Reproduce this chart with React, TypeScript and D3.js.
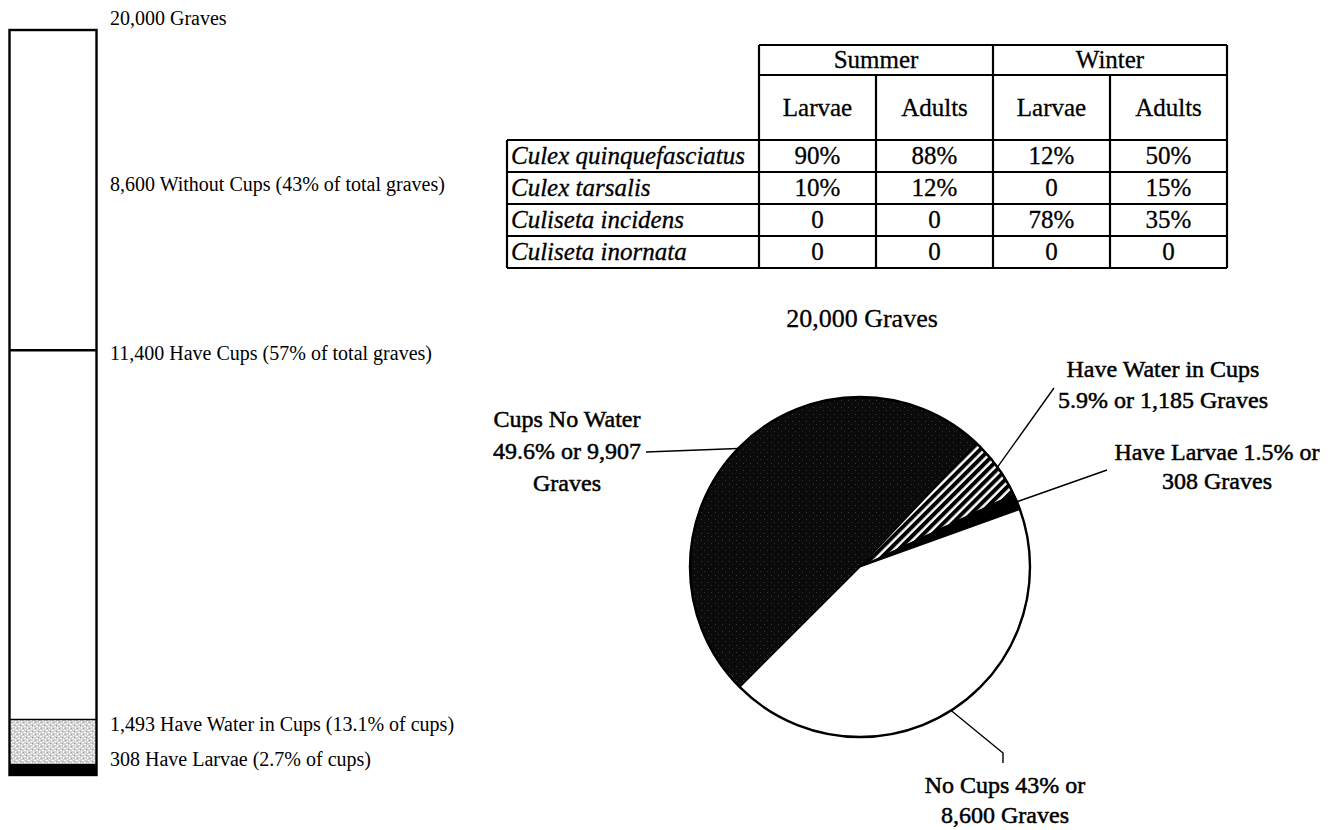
import React from "react";
import * as d3 from "d3";

// ---- Grave survey counts ----
const totalGraves = 20000;
// stacked bar, bottom to top
const barSegmentNames = ["Have Larvae", "Water, No Larvae", "Cups No Water", "Without Cups"];
const barSegmentValues = [308, 1185, 9907, 8600];

// bar annotations: text and the cumulative count each one is anchored to
const barLabelTexts = [
  "20,000 Graves",
  "8,600 Without Cups (43% of total graves)",
  "11,400 Have Cups (57% of total graves)",
  "1,493 Have Water in Cups (13.1% of cups)",
  "308 Have Larvae (2.7% of cups)",
];
const barLabelAnchors = [20000, 15700, 11400, 1493, 308];

// pie slices, clockwise
const pieNames = ["Cups No Water", "Have Water in Cups", "Have Larvae", "No Cups"];
const pieValues = [9907, 1185, 308, 8600];
const pieLabelLines = [
  ["Cups No Water", "49.6% or 9,907", "Graves"],
  ["Have Water in Cups", "5.9% or 1,185 Graves"],
  ["Have Larvae 1.5% or", "308 Graves"],
  ["No Cups 43% or", "8,600 Graves"],
];
const pieTitle = "20,000 Graves";

// species composition table
const seasons = ["Summer", "Winter"];
const stages = ["Larvae", "Adults", "Larvae", "Adults"];
const species = ["Culex quinquefasciatus", "Culex tarsalis", "Culiseta incidens", "Culiseta inornata"];
const quinquefasciatus = ["90%", "88%", "12%", "50%"];
const tarsalis = ["10%", "12%", "0", "15%"];
const incidens = ["0", "0", "78%", "35%"];
const inornata = ["0", "0", "0", "0"];
const tableRows = [quinquefasciatus, tarsalis, incidens, inornata];

const FONT = "'Liberation Serif', 'Times New Roman', Times, serif";

export default function App() {
  const W = 1340;
  const H = 830;

  // ---- bar ----
  const barX0 = 9.5;
  const barX1 = 96.5;
  const y = d3.scaleLinear().domain([0, totalGraves]).range([775, 30]);
  const stack = barSegmentValues.reduce<{ name: string; lo: number; hi: number }[]>((acc, v, i) => {
    const lo = i === 0 ? 0 : acc[i - 1].hi;
    acc.push({ name: barSegmentNames[i], lo, hi: lo + v });
    return acc;
  }, []);
  const barFills = ["#000", "url(#stipple)", "#fff", "#fff"];
  const labelOffsets = [-5, 1, 10, 12, 2];

  // ---- pie ----
  const cx = 860;
  const cy = 567;
  const r = 170;
  const pie = d3
    .pie<number>()
    .sort(null)
    .startAngle(-Math.PI * 0.75)
    .endAngle(Math.PI * 1.25);
  const arcs = pie(pieValues);
  const arc = d3.arc<d3.PieArcDatum<number>>().innerRadius(0).outerRadius(r);
  const pieFills = ["url(#speckle)", "url(#hatch)", "#000", "#fff"];
  const polar = (a: number, rad: number): [number, number] => [cx + rad * Math.sin(a), cy - rad * Math.cos(a)];
  const mid = (d: d3.PieArcDatum<number>) => (d.startAngle + d.endAngle) / 2;

  const labelX = [567, 1163, 1217, 1005];
  const labelY0 = [427, 377, 460, 793];
  const labelStep = [32, 31, 29, 30];
  // where each leader meets its label
  const leaderStarts: [number, number][][] = [
    [[646, 452]],
    [[1054, 388]],
    [[1107, 470]],
    [[1003, 763], [1003, 753]],
  ];
  const line = d3.line();

  // ---- table ----
  const colX = [507, 759, 876, 993, 1110, 1227];
  const rowY = [45, 75, 140, 172, 204, 236, 268];

  return (
    <svg width={W} height={H} style={{ display: "block", position: "absolute", left: 0, top: 0, background: "#fff" }}>
      <defs>
        <pattern id="stipple" width="6" height="6" patternUnits="userSpaceOnUse">
          <rect width="6" height="6" fill="#d2d2d2" />
          <rect x="0" y="0" width="2" height="1" fill="#fff" />
          <rect x="3" y="1" width="1" height="2" fill="#fff" />
          <rect x="1" y="3" width="1" height="1" fill="#fff" />
          <rect x="4" y="4" width="2" height="1" fill="#fff" />
          <rect x="2" y="5" width="1" height="1" fill="#9a9a9a" />
          <rect x="5" y="2" width="1" height="1" fill="#9a9a9a" />
        </pattern>
        <pattern id="speckle" width="7" height="7" patternUnits="userSpaceOnUse">
          <rect width="7" height="7" fill="#0b0b0b" />
          <rect x="2" y="1" width="1" height="1" fill="#3a3a3a" />
          <rect x="5" y="4" width="1" height="1" fill="#2e2e2e" />
        </pattern>
        <pattern id="hatch" width="6.5" height="6.5" patternUnits="userSpaceOnUse" patternTransform="rotate(-45)">
          <rect width="6.5" height="6.5" fill="#fff" />
          <rect width="6.5" height="4" fill="#000" />
        </pattern>
      </defs>

      {/* stacked grave bar */}
      <g>
        {stack.map((s, i) => (
          <rect key={s.name} x={barX0} y={y(s.hi)} width={barX1 - barX0} height={y(s.lo) - y(s.hi)} fill={barFills[i]} />
        ))}
        <line x1={barX0} x2={barX1} y1={y(stack[1].hi)} y2={y(stack[1].hi)} stroke="#000" strokeWidth={1.5} />
        <line x1={barX0} x2={barX1} y1={y(stack[2].hi)} y2={y(stack[2].hi)} stroke="#000" strokeWidth={2.5} />
        <rect x={barX0} y={y(totalGraves)} width={barX1 - barX0} height={y(0) - y(totalGraves)} fill="none" stroke="#000" strokeWidth={2.4} />
        {barLabelTexts.map((t, i) => (
          <text key={t} x={110} y={y(barLabelAnchors[i]) + labelOffsets[i]} fontFamily={FONT} fontSize={20} fill="#000">
            {t}
          </text>
        ))}
      </g>

      {/* species table */}
      <g fontFamily={FONT} fontSize={25} fill="#000" stroke="#000" strokeWidth={0.3}>
        {seasons.map((s, i) => (
          <text key={s} x={(colX[1 + 2 * i] + colX[3 + 2 * i]) / 2} y={rowY[1] - 7} textAnchor="middle">
            {s}
          </text>
        ))}
        {stages.map((s, i) => (
          <text key={i} x={(colX[1 + i] + colX[2 + i]) / 2} y={(rowY[1] + rowY[2]) / 2 + 8} textAnchor="middle">
            {s}
          </text>
        ))}
        {species.map((sp, j) => (
          <g key={sp}>
            <text x={colX[0] + 4} y={(rowY[2 + j] + rowY[3 + j]) / 2 + 8} fontStyle="italic">
              {sp}
            </text>
            {tableRows[j].map((v, i) => (
              <text key={i} x={(colX[1 + i] + colX[2 + i]) / 2} y={(rowY[2 + j] + rowY[3 + j]) / 2 + 8} textAnchor="middle">
                {v}
              </text>
            ))}
          </g>
        ))}
      </g>
      <g stroke="#000" strokeWidth={2.2} fill="none">
        {/* header block */}
        <line x1={colX[1]} x2={colX[5]} y1={rowY[0]} y2={rowY[0]} />
        <line x1={colX[1]} x2={colX[5]} y1={rowY[1]} y2={rowY[1]} />
        {[1, 3, 5].map((c) => (
          <line key={c} x1={colX[c]} x2={colX[c]} y1={rowY[0]} y2={rowY[1]} />
        ))}
        {[1, 2, 3, 4, 5].map((c) => (
          <line key={"s" + c} x1={colX[c]} x2={colX[c]} y1={rowY[1]} y2={rowY[2]} />
        ))}
        {/* body */}
        {[2, 3, 4, 5, 6].map((rIdx) => (
          <line key={"h" + rIdx} x1={colX[0]} x2={colX[5]} y1={rowY[rIdx]} y2={rowY[rIdx]} />
        ))}
        {colX.map((x, c) => (
          <line key={"v" + c} x1={x} x2={x} y1={rowY[2]} y2={rowY[6]} />
        ))}
      </g>

      {/* pie */}
      <text x={862} y={327} textAnchor="middle" fontFamily={FONT} fontSize={26} stroke="#000" strokeWidth={0.3}>
        {pieTitle}
      </text>
      <g transform={`translate(${cx},${cy})`}>
        {arcs.map((d, i) => (
          <path key={pieNames[i]} d={arc(d) || ""} fill={pieFills[i]} stroke="#000" strokeWidth={1.2} />
        ))}
        <circle r={r} fill="none" stroke="#000" strokeWidth={2.4} />
      </g>
      <g stroke="#000" strokeWidth={1.4} fill="none">
        {arcs.map((d, i) => (
          <path key={"l" + i} d={line([...leaderStarts[i], polar(mid(d), r)]) || ""} />
        ))}
      </g>
      <g fontFamily={FONT} fontSize={24} fill="#000" stroke="#000" strokeWidth={0.5} textAnchor="middle">
        {pieLabelLines.map((lines, i) =>
          lines.map((t, k) => (
            <text key={i + "-" + k} x={labelX[i]} y={labelY0[i] + k * labelStep[i]}>
              {t}
            </text>
          ))
        )}
      </g>
    </svg>
  );
}
